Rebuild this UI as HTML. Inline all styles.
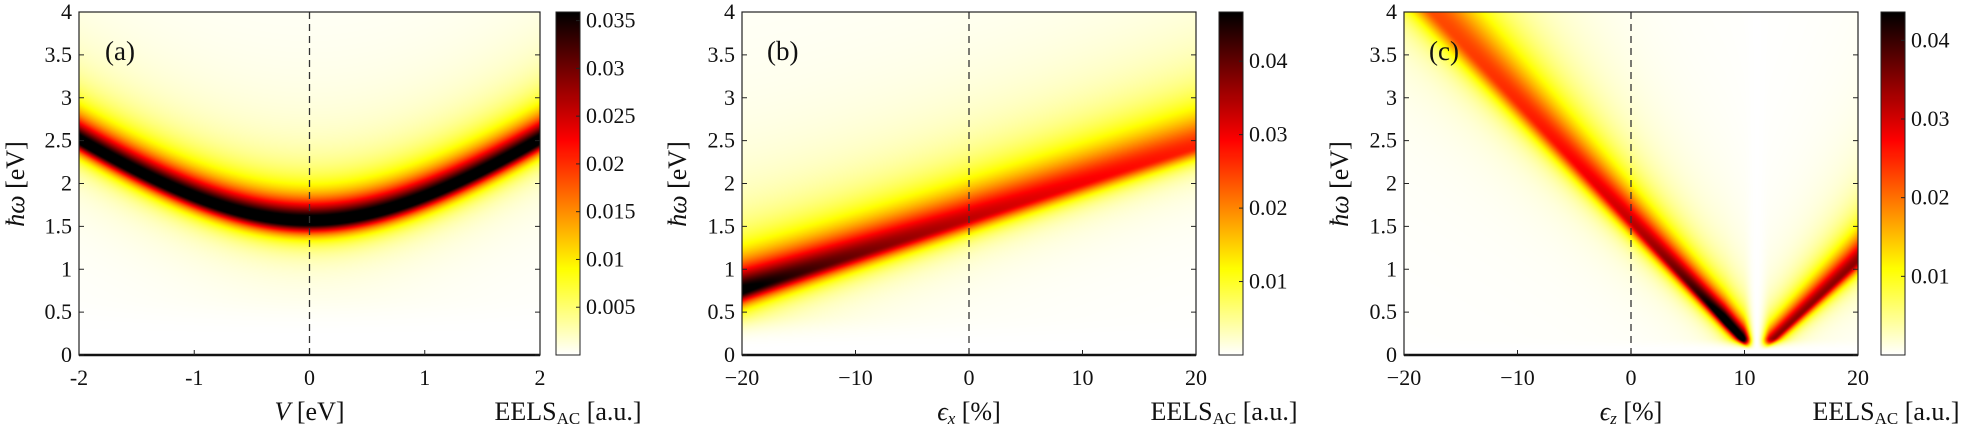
<!DOCTYPE html>
<html><head><meta charset="utf-8"><style>
html,body{margin:0;padding:0;background:#fff;}
#wrap{position:relative;width:1984px;height:429px;overflow:hidden;font-family:"Liberation Serif",serif;}
canvas{position:absolute;}
svg{position:absolute;left:0;top:0;}
text{font-family:"Liberation Serif",serif;fill:#111;}
</style></head><body><div id="wrap">
<canvas id="ca" style="left:79px;top:12px" width="461" height="343"></canvas>
<canvas id="cb" style="left:742px;top:12px" width="454" height="343"></canvas>
<canvas id="cc" style="left:1404px;top:12px" width="454" height="343"></canvas>
<canvas id="ba" style="left:556px;top:12px" width="24" height="343"></canvas>
<canvas id="bb" style="left:1219px;top:12px" width="24" height="343"></canvas>
<canvas id="bc" style="left:1881px;top:12px" width="24" height="343"></canvas>
</div>
<script>
var s='';
function T(x,y,t,a,st){s+='<text x="'+x+'" y="'+y+'" text-anchor="'+(a||'middle')+'" font-size="'+(st||22)+'">'+t+'</text>';}
function panel(L,R,xt,xl,lab,cbL,cmax,cbt,labx,ylx){var T0=12,B=355,k,y,x;
var mid=L+(R-L)/2;
s+='<line x1="'+mid+'" y1="'+T0+'" x2="'+mid+'" y2="'+B+'" stroke="#333" stroke-width="1.3" stroke-dasharray="7,5"/>';
s+='<rect x="'+L+'" y="'+T0+'" width="'+(R-L)+'" height="'+(B-T0)+'" fill="none" stroke="#222" stroke-width="1.2"/>';
s+='<line x1="'+L+'" y1="'+B+'" x2="'+R+'" y2="'+B+'" stroke="#111" stroke-width="2.5"/>';
for(k=0;k<=8;k++){y=B-(B-T0)*k/8;s+='<line x1="'+L+'" y1="'+y+'" x2="'+(L+5)+'" y2="'+y+'" stroke="#222"/><line x1="'+R+'" y1="'+y+'" x2="'+(R-5)+'" y2="'+y+'" stroke="#222"/>';T(L-7,y+7,String(k/2),'end');}
for(k=0;k<xt.length;k++){x=L+(R-L)*k/(xt.length-1);s+='<line x1="'+x+'" y1="'+B+'" x2="'+x+'" y2="'+(B-5)+'" stroke="#222"/>';T(x,385,xt[k]);}
T(mid,420,xl,'middle',26);
T(R+28,420,'EELS<tspan font-size="17" dy="4">AC</tspan><tspan dy="-4"> [a.u.]</tspan>','middle',26);
s+='<text transform="translate('+ylx+',184) rotate(-90)" text-anchor="middle" font-size="26"><tspan font-style="italic">ħω</tspan> [eV]</text>';
T(labx,60,lab,'start',27);
s+='<rect x="'+cbL+'" y="'+T0+'" width="24" height="'+(B-T0)+'" fill="none" stroke="#222"/>';
for(k=0;k<cbt.length;k++){var v=cbt[k];y=B-(B-T0)*v/cmax;s+='<line x1="'+(cbL+24)+'" y1="'+y+'" x2="'+(cbL+20)+'" y2="'+y+'" stroke="#222"/>';T(cbL+30,y+7,String(v),'start');}}
try{
panel(79,540,['-2','-1','0','1','2'],'<tspan font-style="italic">V</tspan> [eV]','(a)',556,0.0359,[0.005,0.01,0.015,0.02,0.025,0.03,0.035],105,24);
panel(742,1196,['−20','−10','0','10','20'],'<tspan font-style="italic">ϵ</tspan><tspan font-style="italic" font-size="17" dy="4">x</tspan><tspan dy="-4"> [%]</tspan>','(b)',1219,0.0467,[0.01,0.02,0.03,0.04],767,686);
panel(1404,1858,['−20','−10','0','10','20'],'<tspan font-style="italic">ϵ</tspan><tspan font-style="italic" font-size="17" dy="4">z</tspan><tspan dy="-4"> [%]</tspan>','(c)',1881,0.0436,[0.01,0.02,0.03,0.04],1429,1348);
}catch(e){}
document.getElementById('wrap').insertAdjacentHTML('beforeend','<svg xmlns="http://www.w3.org/2000/svg" width="1984" height="429">'+s+'</svg>');

function hot(t){t=Math.max(0,Math.min(1,t));var q=1-t;
var r=Math.min(1,q/0.375),g=Math.max(0,Math.min(1,(q-0.375)/0.375)),b=Math.max(0,Math.min(1,(q-0.75)/0.25));
return [Math.round(r*255),Math.round(g*255),Math.round(b*255)];}
function sm(x){x=Math.max(0,Math.min(1,x));return x*x*(3-2*x);}
function lor(E,E0,wu,wd){var w=E>E0?wu:wd;var d=(E-E0)/w;return 1/(1+d*d);}
function draw(id,xmin,xmax,f){try{var c=document.getElementById(id),ctx=c.getContext('2d'),W=c.width,H=c.height;
var im=ctx.createImageData(W,H);for(var j=0;j<H;j++){var E=4*(1-(j+0.5)/H);for(var i=0;i<W;i++){var x=xmin+(xmax-xmin)*(i+0.5)/W;
var col=hot(f(x,E));var k=(j*W+i)*4;im.data[k]=col[0];im.data[k+1]=col[1];im.data[k+2]=col[2];im.data[k+3]=255;}}ctx.putImageData(im,0,0);}catch(e){}}
draw('ca',-2,2,function(x,E){var E0=Math.sqrt(1.55*1.55+0.96*x*x);return 1.1*lor(E,E0,0.24,0.12)*sm((E-0.2)/0.5);});
draw('cb',-20,20,function(x,E){var E0=1.58+0.042*x;var a=Math.pow(0.74/E0,0.5);return 1.05*a*lor(E,E0,0.26+0.06*E0,0.13)*sm((E-0.08)/0.4);});
draw('cc',-20,20,function(x,E){var E0,a;if(x<11.07){E0=1.55-0.14*x;a=Math.min(1.05,Math.pow(0.45/Math.max(E0,0.01),0.35));}else{E0=0.123*(x-11.07);a=0.72;}
E0=Math.max(E0,0.001);var w=0.06+0.05*E0;
return 1.1*a*lor(E,E0,w*2.5,w)*sm((E-0.05)/0.15)*sm(Math.abs(x-11.07)/1.2);});
['ba','bb','bc'].forEach(function(id){var c=document.getElementById(id),ctx=c.getContext('2d');for(var j=0;j<c.height;j++){var col=hot(1-(j+0.5)/c.height);ctx.fillStyle='rgb('+col[0]+','+col[1]+','+col[2]+')';ctx.fillRect(0,j,c.width,1);}});
</script></body></html>
